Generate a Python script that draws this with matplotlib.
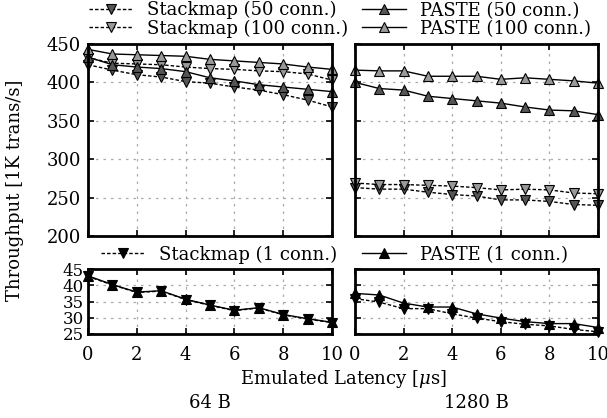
import matplotlib
matplotlib.use("Agg")
import matplotlib.pyplot as plt

plt.rcParams['font.family'] = ['DejaVu Serif']
plt.rcParams['mathtext.fontset'] = 'dejavuserif'
plt.rcParams['font.size'] = 13

latency = [0, 1, 2, 3, 4, 5, 6, 7, 8, 9, 10]

# 64 B
stack50_64 = [423, 416, 410, 407, 401, 399, 394, 390, 384, 377, 368]
stack100_64 = [432, 425, 424, 423, 420, 418, 417, 415, 414, 411, 403]
paste50_64 = [433, 423, 420, 418, 414, 406, 402, 397, 394, 391, 388]
paste100_64 = [443, 437, 436, 435, 434, 430, 428, 426, 424, 420, 417]
stack1_64 = [42.7, 40.1, 37.8, 38.2, 35.6, 33.8, 32.2, 33.0, 30.9, 29.6, 28.5]
paste1_64 = [42.9, 40.2, 37.9, 38.3, 35.7, 33.9, 32.3, 33.1, 31.0, 29.7, 28.6]

# 1280 B
stack50_1280 = [263, 261, 261, 257, 254, 252, 247, 247, 245, 241, 240]
stack100_1280 = [269, 267, 267, 266, 265, 263, 260, 261, 260, 256, 255]
paste50_1280 = [400, 392, 390, 382, 379, 376, 373, 368, 364, 363, 358]
paste100_1280 = [416, 415, 415, 408, 408, 408, 404, 406, 404, 402, 399]
stack1_1280 = [35.9, 34.8, 32.8, 32.8, 31.2, 29.9, 28.8, 28.0, 27.5, 26.4, 25.7]
paste1_1280 = [37.5, 37.0, 34.5, 33.3, 33.3, 31.2, 29.9, 28.8, 28.2, 28.2, 27.0]

DARK = '#555555'
LIGHT = '#999999'
DASH = (0, (2.5, 1.5))

W, H = 607, 418
fig = plt.figure(figsize=(W / 100, H / 100), dpi=100)


def px_axes(x0, y0, x1, y1):
    return fig.add_axes([x0 / W, 1 - y1 / H, (x1 - x0) / W, (y1 - y0) / H])


ax_tl = px_axes(88, 44, 332, 236)
ax_tr = px_axes(355, 44, 598, 236)
ax_bl = px_axes(88, 269, 332, 334)
ax_br = px_axes(355, 269, 598, 334)


def style(ax):
    for s in ax.spines.values():
        s.set_linewidth(2)
    ax.tick_params(direction='in', top=True, right=True, length=4, width=1.2,
                   labelsize=13, pad=5)
    ax.grid(True, color='#aaaaaa', linestyle=(0, (2, 4)), linewidth=0.9)
    ax.set_axisbelow(True)
    ax.set_xlim(0, 10)
    ax.set_xticks([0, 2, 4, 6, 8, 10])


mk = dict(markersize=7, markeredgecolor='black', markeredgewidth=0.8)

for ax, s50, s100, p50, p100 in [
        (ax_tl, stack50_64, stack100_64, paste50_64, paste100_64),
        (ax_tr, stack50_1280, stack100_1280, paste50_1280, paste100_1280)]:
    ax.plot(latency, s50, color='black', linestyle=DASH, lw=1, marker='v',
            markerfacecolor=DARK, label='Stackmap (50 conn.)', clip_on=False, **mk)
    ax.plot(latency, s100, color='black', linestyle=DASH, lw=1, marker='v',
            markerfacecolor=LIGHT, label='Stackmap (100 conn.)', clip_on=False, **mk)
    ax.plot(latency, p50, color='black', linestyle='-', lw=1, marker='^',
            markerfacecolor=DARK, label='PASTE (50 conn.)', clip_on=False, **mk)
    ax.plot(latency, p100, color='black', linestyle='-', lw=1, marker='^',
            markerfacecolor=LIGHT, label='PASTE (100 conn.)', clip_on=False, **mk)
    style(ax)
    ax.set_ylim(200, 450)
    ax.set_yticks([200, 250, 300, 350, 400, 450])
    ax.tick_params(labelbottom=False)

for ax, s1, p1 in [(ax_bl, stack1_64, paste1_64), (ax_br, stack1_1280, paste1_1280)]:
    ax.plot(latency, s1, color='black', linestyle=DASH, lw=1, marker='v',
            markerfacecolor='black', label='Stackmap (1 conn.)', clip_on=False, **mk)
    ax.plot(latency, p1, color='black', linestyle='-', lw=1, marker='^',
            markerfacecolor='black', label='PASTE (1 conn.)', clip_on=False, **mk)
    style(ax)
    ax.set_ylim(25, 45)
    ax.set_yticks([25, 30, 35, 40, 45])
    ax.tick_params(axis='y', pad=3, labelsize=12)
    ax.tick_params(axis='x', pad=9)

ax_tr.tick_params(labelleft=False)
ax_br.tick_params(labelleft=False)

leg_kw = dict(frameon=False, numpoints=1, handlelength=2.4, handletextpad=0.8,
              labelspacing=0.0, borderaxespad=0, fontsize=13)

h, l = ax_tl.get_legend_handles_labels()
ax_tl.legend(h[:2], l[:2], loc='lower left', bbox_to_anchor=(-0.025, 0.995), **leg_kw)
ax_tr.legend(h[2:], l[2:], loc='lower left', bbox_to_anchor=(0.0, 0.995), **leg_kw)

h, l = ax_bl.get_legend_handles_labels()
ax_bl.legend(h[:1], l[:1], loc='lower left', bbox_to_anchor=(0.025, 0.97), **leg_kw)
ax_br.legend(h[1:], l[1:], loc='lower left', bbox_to_anchor=(0.0, 0.97), **leg_kw)

fig.text(343 / W, 1 - 379 / H, r'Emulated Latency [$\mu$s]', ha='center', va='center', fontsize=13)
fig.text(210 / W, 1 - 403 / H, '64 B', ha='center', va='center', fontsize=13)
fig.text(476 / W, 1 - 403 / H, '1280 B', ha='center', va='center', fontsize=13)
fig.text(15 / W, 1 - 190 / H, 'Throughput [1K trans/s]', ha='center', va='center',
         rotation=90, fontsize=13)

fig.savefig('out.png', dpi=100)
